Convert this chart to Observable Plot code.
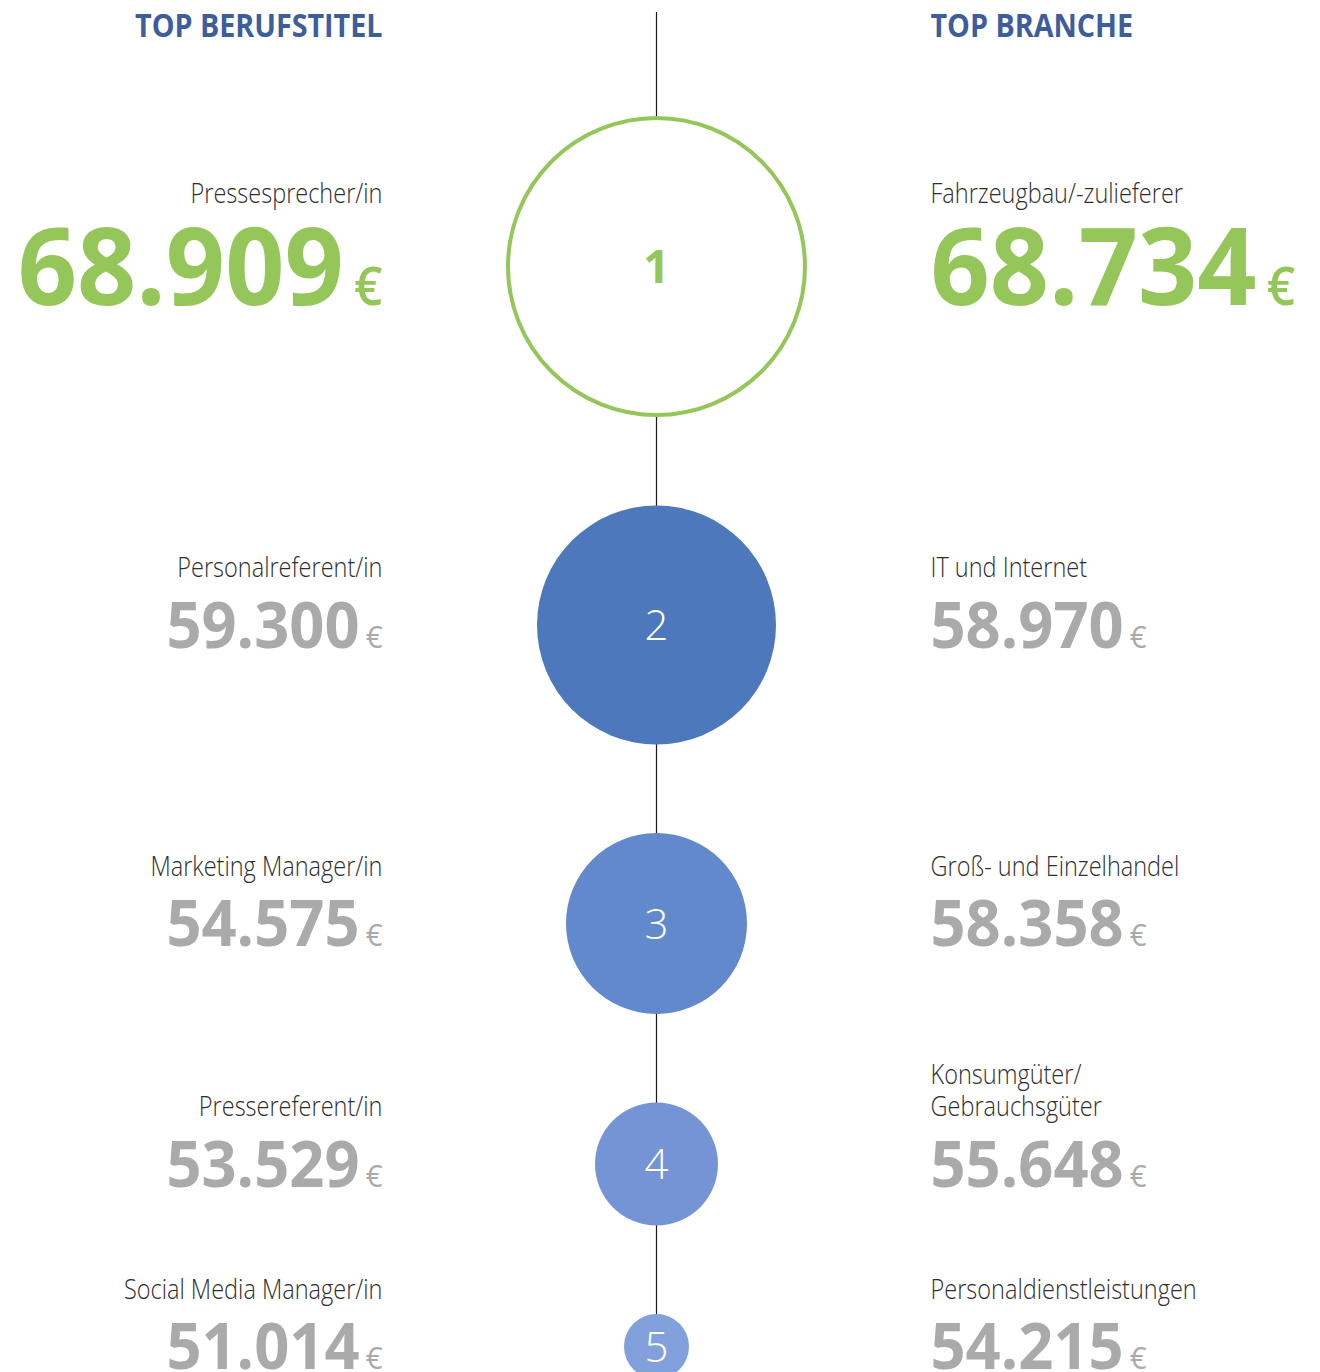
<!DOCTYPE html>
<html lang="de">
<head>
<meta charset="utf-8">
<script src="https://cdn.jsdelivr.net/npm/d3@7"></script>
<script src="https://cdn.jsdelivr.net/npm/@observablehq/plot@0.6"></script>
<style>
  html, body { margin: 0; padding: 0; background: #ffffff; }
  #chart svg { display: block; }
</style>
</head>
<body>
<div id="chart"></div>
<script>
// ---- Daten ----
const headers = ["TOP BERUFSTITEL", "TOP BRANCHE"];
const ranks = [1, 2, 3, 4, 5];
const jobTitles = ["Pressesprecher/in", "Personalreferent/in", "Marketing Manager/in", "Pressereferent/in", "Social Media Manager/in"];
const jobSalaries = [68909, 59300, 54575, 53529, 51014];
const industries = ["Fahrzeugbau/-zulieferer", "IT und Internet", "Groß- und Einzelhandel", "Konsumgüter/\nGebrauchsgüter", "Personaldienstleistungen"];
const industrySalaries = [68734, 58970, 58358, 55648, 54215];

// ---- Stil ----
const green = "#95c65a";
const gray = "#aaaaaa";
const blue = "#3d5d9b";
const ink = "#2e2e2e";
const palette = ["#ffffff", "#4d78bc", "#6189cb", "#7594d5", "#81a0dc"];
const columns = ["Berufstitel", "Rang", "Branche"];

const W = 1320, H = 1372;
const rRange = [148.5, 32.5];
const rScale = d3.scaleLinear([1, 5], rRange);
const gap = 88.5, firstCenter = 266, ringWidth = 4;
const centers = [];
ranks.forEach((r, i) => {
  if (i === 0) centers.push(firstCenter);
  else centers.push(centers[i - 1] + rScale(ranks[i - 1]) + gap + rScale(r) + (i === 1 ? ringWidth / 2 : 0));
});

const de = d3.formatLocale({decimal: ",", thousands: ".", grouping: [3], currency: ["", "€"]});
const fmt = de.format(",d");

const rows = ranks.map((rank, i) => ({
  rank, job: jobTitles[i], jobSalary: jobSalaries[i],
  industry: industries[i], industrySalary: industrySalaries[i]
}));

const groups = [
  {test: d => d.rank === 1, fs: 108, color: green},
  {test: d => d.rank > 1, fs: 64, color: gray}
];

const textMarks = [];
for (const g of groups) {
  const data = rows.filter(g.test);
  const numDy = 0.357 * g.fs;
  const labDy = -(0.357 * g.fs + 25);
  textMarks.push(Plot.text(data, {
    x: () => "Berufstitel", y: "rank", text: "job", textAnchor: "end", lineAnchor: "bottom",
    dy: labDy, fontSize: 28, fontWeight: 300, fill: ink, ariaDescription: "label-l"
  }));
  textMarks.push(Plot.text(data, {
    x: () => "Berufstitel", y: "rank", text: d => fmt(d.jobSalary), textAnchor: "end", lineAnchor: "bottom",
    dy: numDy, fontSize: g.fs, fontWeight: 700, fill: g.color, ariaDescription: "betrag"
  }));
  textMarks.push(Plot.text(data, {
    x: () => "Branche", y: "rank", text: "industry", textAnchor: "start", lineAnchor: "bottom",
    dy: labDy, fontSize: 28, fontWeight: 300, fill: ink, lineHeight: 1.15, ariaDescription: "label-r"
  }));
  textMarks.push(Plot.text(data, {
    x: () => "Branche", y: "rank", text: d => fmt(d.industrySalary), textAnchor: "start", lineAnchor: "bottom",
    dy: numDy, fontSize: g.fs, fontWeight: 700, fill: g.color, ariaDescription: "betrag"
  }));
}

const chart = Plot.plot({
  width: W, height: H,
  marginTop: 12, marginBottom: 0, marginLeft: 0, marginRight: 0,
  style: {fontFamily: "'Open Sans', 'Noto Sans', sans-serif", background: "#ffffff", overflow: "visible"},
  x: {type: "point", domain: columns, range: [382, 930], padding: 0, axis: null},
  y: {type: "linear", domain: ranks, range: centers, axis: null},
  r: {type: "linear", domain: [1, 5], range: rRange},
  color: {type: "ordinal", domain: ranks, range: palette},
  marks: [
    Plot.ruleX(["Rang"], {stroke: "#1a1a1a", strokeWidth: 1.2}),
    Plot.dot(ranks, {x: () => "Rang", y: d => d, r: d => d, fill: d => d, stroke: "none"}),
    Plot.dot(ranks, {filter: d => d === 1, x: () => "Rang", y: d => d, r: d => d, fill: "#ffffff", stroke: green, strokeWidth: ringWidth}),
    Plot.text(ranks, {filter: d => d === 1, x: () => "Rang", y: d => d, text: d => String(d), fill: green, fontSize: 46, fontWeight: 700, dy: 2}),
    Plot.text(ranks, {filter: d => d > 1, x: () => "Rang", y: d => d, text: d => String(d), fill: "#ffffff", fontSize: 42, fontWeight: 300, dy: 2}),
    Plot.text([headers[0]], {x: () => "Berufstitel", text: d => d, frameAnchor: "top",
      textAnchor: "end", lineAnchor: "bottom", dy: 24, fontSize: 33, fontWeight: 700, fill: blue, ariaDescription: "kopf"}),
    Plot.text([headers[1]], {x: () => "Branche", text: d => d, frameAnchor: "top",
      textAnchor: "start", lineAnchor: "bottom", dy: 24, fontSize: 33, fontWeight: 700, fill: blue, ariaDescription: "kopf"}),
    ...textMarks
  ]
});

document.getElementById("chart").appendChild(chart);

// euro sign as a smaller, lighter trailing tspan
const svgNS = "http://www.w3.org/2000/svg";
chart.querySelectorAll('g[aria-description="betrag"] text').forEach(t => {
  const fs = parseFloat(getComputedStyle(t).fontSize) || 64;
  const ts = document.createElementNS(svgNS, "tspan");
  ts.setAttribute("font-size", (fs * 0.48).toFixed(1));
  ts.setAttribute("font-weight", fs > 80 ? 600 : 400);
  ts.setAttribute("dx", (fs * 0.1).toFixed(1));
  ts.textContent = "€";
  t.appendChild(ts);
});

// condensed rendering of the humanist face (Frutiger-condensed look)
function condense(label, k) {
  chart.querySelectorAll(`g[aria-description="${label}"] text`).forEach(t => {
    let tr = t.getAttribute("transform") || "";
    if (t.hasAttribute("x") || t.hasAttribute("y")) {
      const x = t.getAttribute("x") || 0, y = t.getAttribute("y") || 0;
      t.removeAttribute("x"); t.removeAttribute("y");
      tr = `translate(${x},${y}) ` + tr;
    }
    t.setAttribute("transform", `${tr} scale(${k},1)`);
  });
}
condense("label-l", 0.84);
condense("label-r", 0.84);
condense("kopf", 0.87);
condense("betrag", 0.96);
</script>
</body>
</html>
